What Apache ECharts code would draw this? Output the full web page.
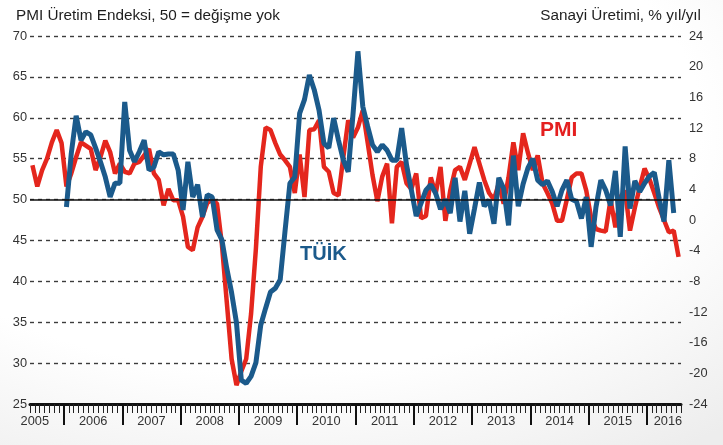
<!DOCTYPE html>
<html>
<head>
<meta charset="utf-8">
<script src="https://cdn.jsdelivr.net/npm/echarts@6/dist/echarts.min.js"></script>
<style>
html,body{margin:0;padding:0;}
#c{width:723px;height:445px;background:radial-gradient(ellipse 95% 90% at 38% 28%, #ffffff 62%, #ededed 100%);}
</style>
</head>
<body>
<div id="c"></div>
<script>
// Months: Jun 2005 .. Jul 2016
const startYear = 2005, startMonth = 6, monthCount = 134;
const months = [];
for (let k = 0; k < monthCount; k++) {
  const t = startMonth - 1 + k;
  months.push((startYear + Math.floor(t / 12)) + '-' + String(t % 12 + 1).padStart(2, '0'));
}

// PMI Üretim Endeksi (left axis)
const pmi = [
  54.2,51.6,53.6,55.0,57.0,58.5,56.9,51.6,53.2,55.2,
  57.0,56.6,56.2,53.6,55.2,57.2,55.8,53.2,54.4,53.4,
  53.2,54.4,54.6,55.4,56.2,53.2,52.4,49.3,51.3,49.9,
  49.9,47.9,44.2,43.8,46.6,47.9,49.6,50.0,49.5,44.5,
  37.5,30.5,27.3,29.0,30.5,36.0,44.0,54.0,58.8,58.5,
  56.9,55.5,54.8,54.0,50.8,55.5,50.3,58.5,58.6,59.7,
  54.0,53.4,50.8,50.5,55.2,59.7,57.6,58.8,60.9,57.0,
  53.0,49.8,52.8,54.4,47.1,54.0,54.6,52.0,51.3,53.2,
  47.7,48.0,52.7,50.7,54.0,47.4,51.1,53.6,54.0,52.4,
  54.4,56.4,54.4,52.4,50.8,50.0,52.0,49.5,52.7,57.0,
  53.6,58.1,55.7,53.6,55.4,52.0,50.8,49.5,47.4,47.4,
  50.0,52.7,53.2,53.2,51.1,47.8,46.4,46.2,46.1,50.0,
  46.6,50.3,51.1,46.2,49.0,51.5,53.8,52.5,50.8,49.0,
  47.5,46.0,46.2,43.0
];

// TÜİK Sanayi Üretimi, % yıl/yıl (right axis)
const tuik = [
  null,null,null,null,null,null,null,1.7,8.7,13.6,
  10.4,11.5,11.1,9.4,7.6,5.6,3.0,4.8,4.8,15.4,
  9.1,7.6,8.9,10.4,6.5,6.9,8.9,8.5,8.6,8.6,
  6.5,1.3,7.6,3.0,4.6,0.4,3.3,3.0,-1.3,-2.6,
  -6.3,-9.5,-13.4,-20.9,-21.3,-20.4,-18.6,-13.7,-11.5,-9.4,
  -8.9,-7.8,-1.4,4.8,5.6,13.9,15.7,18.9,17.0,14.3,
  10.0,9.4,13.3,10.4,7.8,6.3,13.9,22.0,14.8,12.2,
  9.8,8.9,9.8,9.1,7.8,7.8,12.0,7.2,3.9,0.5,
  2.2,3.9,4.6,3.5,1.4,2.7,0.9,5.5,-0.2,3.8,
  -1.8,1.5,4.9,1.8,2.6,-0.5,5.5,4.1,-0.7,8.4,
  1.8,4.7,6.8,8.0,5.2,4.6,5.1,3.7,1.8,3.9,
  5.2,2.7,2.4,0.2,3.0,-3.5,1.7,5.2,3.9,1.9,
  6.4,-2.2,9.6,1.5,5.1,3.7,4.8,5.7,6.2,2.8,
  -0.2,7.8,0.9,null
];

const yearLabels = ['2005','2006','2007','2008','2009','2010','2011','2012','2013','2014','2015','2016'];
const leftTitle = 'PMI Üretim Endeksi, 50 = değişme yok';
const rightTitle = 'Sanayi Üretimi, % yıl/yıl';

// band positions: January starts (major ticks), mid-year (labels)
const janPos = [], labelPos = [];
months.forEach((m, k) => { if (m.endsWith('-01')) janPos.push(k); });
yearLabels.forEach((y, j) => {
  const k = months.indexOf(y + '-07');
  labelPos.push(Math.min(k < 0 ? monthCount : k, monthCount - 2.7));
});

function hasFont(name) {
  const c = document.createElement('canvas').getContext('2d');
  const s = 'abcdefghijklmnopqrstuvwxyz0123456789';
  c.font = '40px monospace'; const a = c.measureText(s).width;
  c.font = '40px "' + name + '", monospace'; const b = c.measureText(s).width;
  return Math.abs(a - b) > 0.5;
}
const narrow = hasFont('Liberation Sans Narrow');
const FF = narrow ? '"Liberation Sans Narrow", sans-serif' : '"Liberation Sans", Arial, sans-serif';
const S = narrow ? 1 : 0.85;

const chart = echarts.init(document.getElementById('c'), null, {renderer: 'canvas'});
const gridDash = {color: '#3c3c3c', width: 1.4, type: [4, 4]};

chart.setOption({
  backgroundColor: 'transparent',
  animation: false,
  textStyle: {fontFamily: FF},
  title: [
    {text: leftTitle, left: 11, top: 3, textStyle: {fontFamily: FF, fontSize: Math.round(18 * S * 10) / 10, fontWeight: 'normal', color: '#1e1e1e'}},
    {text: rightTitle, right: 17, top: 3, textStyle: {fontFamily: FF, fontSize: Math.round(18 * S * 10) / 10, fontWeight: 'normal', color: '#1e1e1e'}}
  ],
  grid: {left: 30, right: 42, top: 36, bottom: 41, containLabel: false},
  xAxis: [
    {
      type: 'category', data: months, boundaryGap: true, position: 'bottom',
      axisLine: {show: true, onZero: false, lineStyle: {color: '#111', width: 3}},
      axisTick: {show: true, interval: 0, length: 9, lineStyle: {color: '#222', width: 1}},
      axisLabel: {show: false}, splitLine: {show: false}
    },
    {
      type: 'value', min: 0, max: monthCount, position: 'bottom',
      axisLine: {show: false, onZero: false},
      axisTick: {show: true, customValues: janPos, length: 21, lineStyle: {color: '#111', width: 2}},
      axisLabel: {
        show: true, customValues: labelPos, margin: 11,
        fontFamily: FF, fontSize: Math.round(15 * S * 10) / 10, color: '#333',
        formatter: v => { const j = labelPos.findIndex(p => Math.abs(p - v) < 1e-6); return j >= 0 ? yearLabels[j] : ''; }
      },
      splitLine: {show: false}
    }
  ],
  yAxis: [
    {
      type: 'value', min: 25, max: 70, interval: 5, position: 'left',
      axisLine: {show: false}, axisTick: {show: false},
      axisLabel: {margin: 3, fontFamily: FF, fontSize: Math.round(15 * S * 10) / 10, color: '#333'},
      splitLine: {show: true, lineStyle: gridDash}
    },
    {
      type: 'value', min: -24, max: 24, interval: 4, position: 'right',
      axisLine: {show: false}, axisTick: {show: false},
      axisLabel: {margin: 8, fontFamily: FF, fontSize: Math.round(15 * S * 10) / 10, color: '#333'},
      splitLine: {show: false}
    }
  ],
  series: [
    {
      type: 'line', name: 'ref50', xAxisIndex: 0, yAxisIndex: 0, data: [], z: 1,
      markLine: {silent: true, symbol: 'none', label: {show: false},
        lineStyle: {color: '#111', width: 1.6, type: 'solid'}, data: [{yAxis: 50}]}
    },
    {
      type: 'line', name: 'PMI', xAxisIndex: 0, yAxisIndex: 0, data: pmi, z: 3,
      symbol: 'none', lineStyle: {color: '#e4261d', width: 4.5}
    },
    {
      type: 'line', name: 'TÜİK', xAxisIndex: 0, yAxisIndex: 1, data: tuik, z: 4,
      symbol: 'none', connectNulls: false, lineStyle: {color: '#1b5a8b', width: 5}
    }
  ],
  graphic: [
    {type: 'text', left: 540, top: 120, z: 10, style: {text: 'PMI', fill: '#e41f1f', font: 'bold ' + Math.round(25 * S) + 'px ' + FF}},
    {type: 'text', left: 300, top: 244, z: 10, style: {text: 'TÜİK', fill: '#1b5a8b', font: 'bold ' + Math.round(24 * S) + 'px ' + FF}}
  ]
});
</script>
</body>
</html>
